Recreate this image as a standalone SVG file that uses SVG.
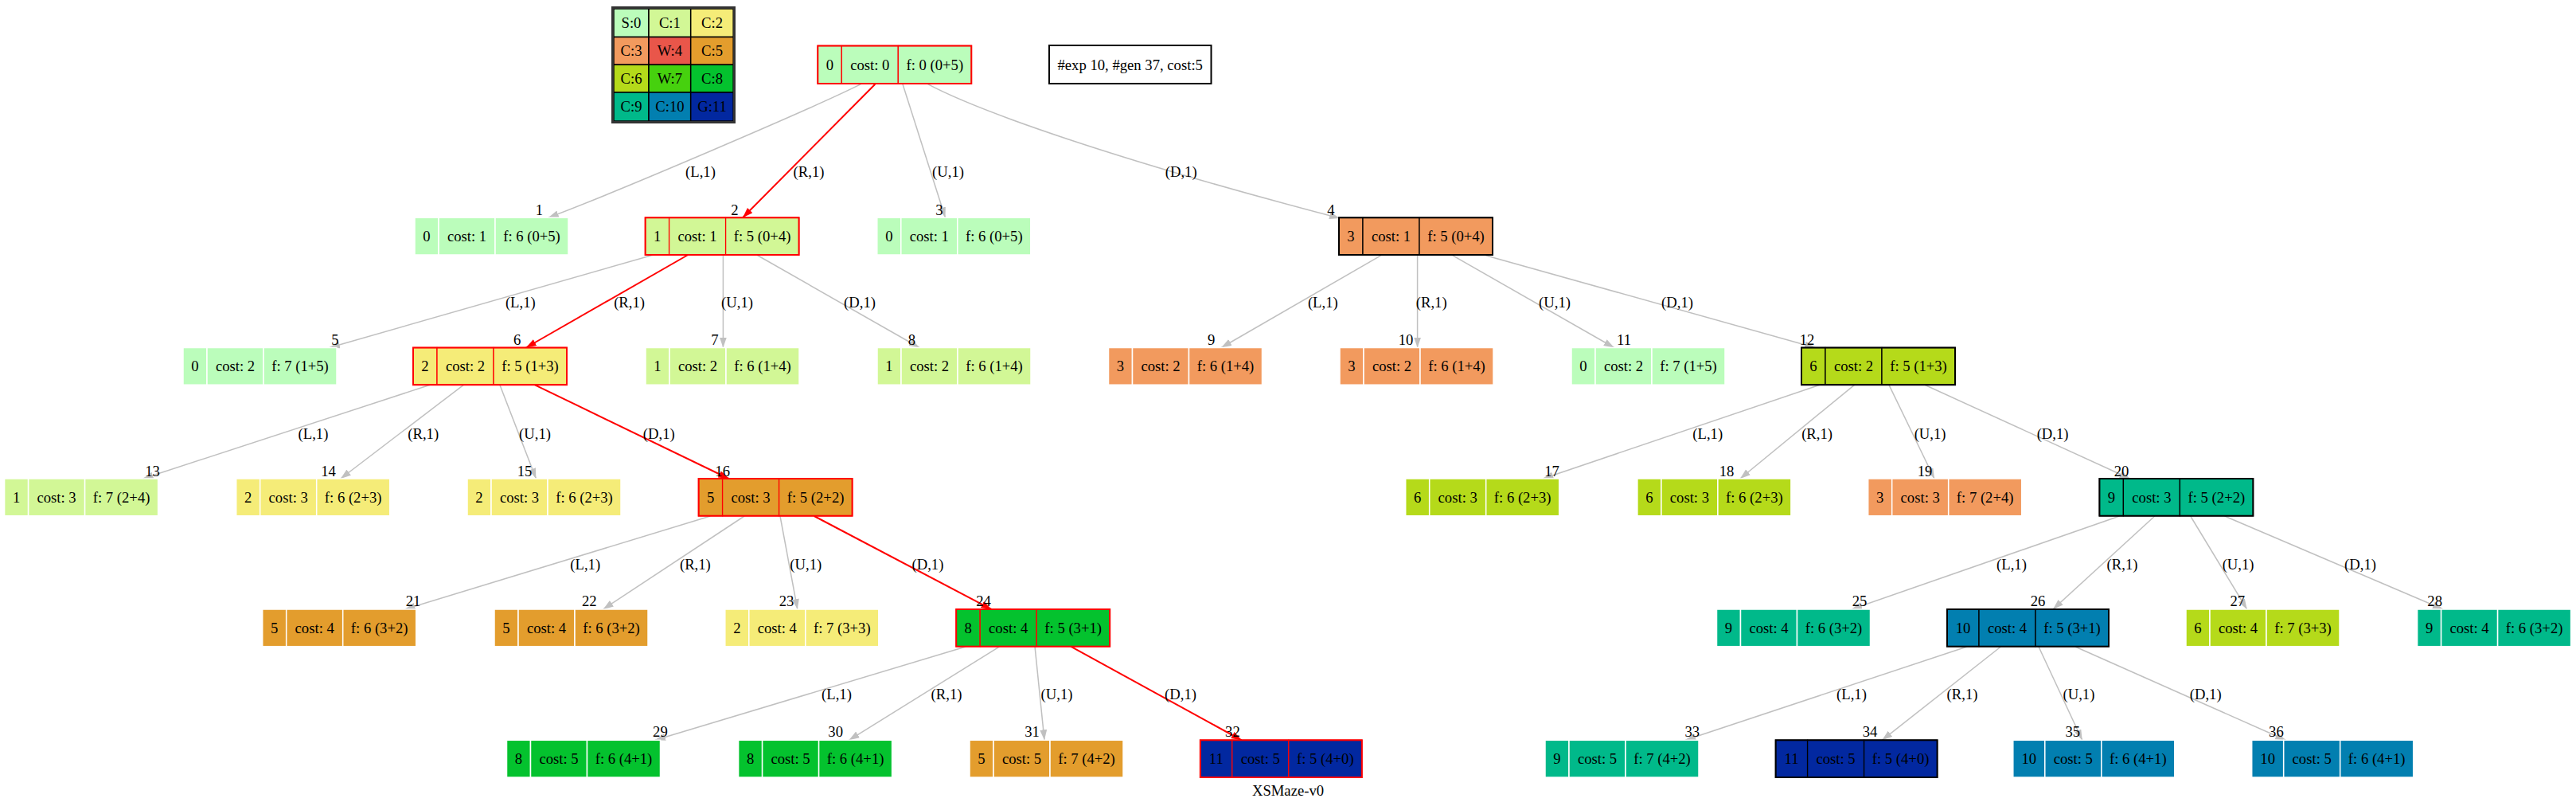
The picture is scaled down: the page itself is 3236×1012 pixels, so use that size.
<svg xmlns="http://www.w3.org/2000/svg" width="3236" height="1012" viewBox="0 0 3236 1012">
<style>
.t{font-family:"Liberation Serif","Times New Roman",serif;font-size:18.67px;fill:#000;text-anchor:middle}
.e{fill:none;stroke:#c0c0c0;stroke-width:1.5}
.r{fill:none;stroke:#ff0000;stroke-width:2}
g.w rect{stroke:#ffffff;stroke-width:1.5}
g.pr rect{stroke:#ff0000;stroke-width:1.3}
g.pk rect{stroke:#000000;stroke-width:1.3}
g.pr rect.o{fill:none;stroke:#ff0000;stroke-width:2}
g.pk rect.o{fill:none;stroke:#000000;stroke-width:2}
.k0{fill:#bbfdbb}.k1{fill:#d2f796}.k2{fill:#f5ec78}.k3{fill:#f29a5e}.k4{fill:#e9564a}.k5{fill:#e39d2d}
.k6{fill:#b5da1a}.k7{fill:#46d10e}.k8{fill:#04c22e}.k9{fill:#00b98a}.k10{fill:#027fb0}.k11{fill:#0228a0}
#legend rect{stroke:#000;stroke-width:1.5}
</style>
<defs>
<marker id="ag" markerUnits="userSpaceOnUse" markerWidth="14" markerHeight="10" refX="13" refY="4.5" orient="auto"><path d="M0,0 L13,4.5 L0,9 z" fill="#c0c0c0"/></marker>
<marker id="ar" markerUnits="userSpaceOnUse" markerWidth="14" markerHeight="10" refX="13" refY="4.5" orient="auto"><path d="M0,0 L13,4.5 L0,9 z" fill="#ff0000"/></marker>
</defs>
<rect x="0" y="0" width="3236" height="1012" fill="#ffffff"/>

<g id="legend">
<rect x="771" y="11" width="44" height="35.5" class="k0"/><rect x="815" y="11" width="52.7" height="35.5" class="k1"/><rect x="867.7" y="11" width="53.5" height="35.5" class="k2"/>
<rect x="771" y="46.5" width="44" height="34.8" class="k3"/><rect x="815" y="46.5" width="52.7" height="34.8" class="k4"/><rect x="867.7" y="46.5" width="53.5" height="34.8" class="k5"/>
<rect x="771" y="81.3" width="44" height="34.7" class="k6"/><rect x="815" y="81.3" width="52.7" height="34.7" class="k7"/><rect x="867.7" y="81.3" width="53.5" height="34.7" class="k8"/>
<rect x="771" y="116" width="44" height="36" class="k9"/><rect x="815" y="116" width="52.7" height="36" class="k10"/><rect x="867.7" y="116" width="53.5" height="36" class="k11"/>
<rect x="769.5" y="9.5" width="153" height="144" fill="none" style="stroke:#333;stroke-width:3"/>
<text class="t" x="793" y="35">S:0</text><text class="t" x="841.4" y="35">C:1</text><text class="t" x="894.5" y="35">C:2</text>
<text class="t" x="793" y="70">C:3</text><text class="t" x="841.4" y="70">W:4</text><text class="t" x="894.5" y="70">C:5</text>
<text class="t" x="793" y="104.8">C:6</text><text class="t" x="841.4" y="104.8">W:7</text><text class="t" x="894.5" y="104.8">C:8</text>
<text class="t" x="793" y="140.3">C:9</text><text class="t" x="841.4" y="140.3">C:10</text><text class="t" x="894.5" y="140.3">G:11</text>
</g>

<g id="info">
<rect x="1318" y="57" width="203.5" height="48" fill="#fff" stroke="#000" stroke-width="2"/>
<text class="t" x="1419.7" y="87.5">#exp 10, #gen 37, cost:5</text>
</g>

<g id="connectors">
<path class="e" marker-end="url(#ag)" d="M1081.4,105.7 C1021,136 770,243 688.8,273.3"/>
<path class="r" marker-end="url(#ar)" d="M1099.3,105.7 L933,273.3"/>
<path class="e" marker-end="url(#ag)" d="M1134,105.7 L1187.5,273.3"/>
<path class="e" marker-end="url(#ag)" d="M1165.6,105.7 C1230,140 1400,200 1683,274"/>
<path class="e" marker-end="url(#ag)" d="M820.8,320 L413.9,436.5"/>
<path class="r" marker-end="url(#ar)" d="M864.3,320 L660.8,436.5"/>
<path class="e" marker-end="url(#ag)" d="M908.4,320 L908.4,436.5"/>
<path class="e" marker-end="url(#ag)" d="M950.5,320 L1155,436.5"/>
<path class="e" marker-end="url(#ag)" d="M1735,320.7 L1534.2,436.5"/>
<path class="e" marker-end="url(#ag)" d="M1780.6,320.7 L1780.6,436.5"/>
<path class="e" marker-end="url(#ag)" d="M1824.6,320.7 L2027.7,436.5"/>
<path class="e" marker-end="url(#ag)" d="M1866.4,320.7 L2280,436.5"/>
<path class="e" marker-end="url(#ag)" d="M540.2,483.3 L179.6,601"/>
<path class="e" marker-end="url(#ag)" d="M582.3,483.3 L427.9,601"/>
<path class="e" marker-end="url(#ag)" d="M627.9,483.3 L673.4,601"/>
<path class="r" marker-end="url(#ar)" d="M672,483.3 L915.5,601"/>
<path class="e" marker-end="url(#ag)" d="M2286,483.3 L1938.3,601"/>
<path class="e" marker-end="url(#ag)" d="M2329.5,483.3 L2186,601"/>
<path class="e" marker-end="url(#ag)" d="M2373,483.3 L2430,601"/>
<path class="e" marker-end="url(#ag)" d="M2418,483.3 L2675.7,601"/>
<path class="e" marker-end="url(#ag)" d="M892.3,648 L508.6,765"/>
<path class="e" marker-end="url(#ag)" d="M935.1,648 L757.6,765"/>
<path class="e" marker-end="url(#ag)" d="M980,648 L1001.8,765"/>
<path class="r" marker-end="url(#ar)" d="M1022.8,648 L1245.4,765"/>
<path class="e" marker-end="url(#ag)" d="M2662.5,648 L2326,765"/>
<path class="e" marker-end="url(#ag)" d="M2706.8,648 L2579,765"/>
<path class="e" marker-end="url(#ag)" d="M2751.7,648 L2822.7,765"/>
<path class="e" marker-end="url(#ag)" d="M2794.6,648 L3069,765"/>
<path class="e" marker-end="url(#ag)" d="M1213.8,811.7 L823,929.3"/>
<path class="e" marker-end="url(#ag)" d="M1256,811.7 L1066.5,929.3"/>
<path class="e" marker-end="url(#ag)" d="M1300,811.7 L1312,929.3"/>
<path class="r" marker-end="url(#ar)" d="M1345,811.7 L1559.7,929.3"/>
<path class="e" marker-end="url(#ag)" d="M2470.8,812 L2117.3,929.3"/>
<path class="e" marker-end="url(#ag)" d="M2513.4,812 L2364.3,929.3"/>
<path class="e" marker-end="url(#ag)" d="M2561,812 L2615.7,929.3"/>
<path class="e" marker-end="url(#ag)" d="M2607,812 L2871.3,929.3"/>
<text class="t" x="880" y="222.3">(L,1)</text><text class="t" x="1016" y="222.3">(R,1)</text><text class="t" x="1191" y="222.3">(U,1)</text><text class="t" x="1483.7" y="222.3">(D,1)</text>
<text class="t" x="653.8" y="386.3">(L,1)</text><text class="t" x="790.6" y="386.3">(R,1)</text><text class="t" x="926" y="386.3">(U,1)</text><text class="t" x="1080" y="386.3">(D,1)</text>
<text class="t" x="1661.8" y="386.3">(L,1)</text><text class="t" x="1798.2" y="386.3">(R,1)</text><text class="t" x="1953" y="386.3">(U,1)</text><text class="t" x="2107" y="386.3">(D,1)</text>
<text class="t" x="393.5" y="550.6">(L,1)</text><text class="t" x="531.7" y="550.6">(R,1)</text><text class="t" x="672" y="550.6">(U,1)</text><text class="t" x="827.8" y="550.6">(D,1)</text>
<text class="t" x="2145.2" y="550.6">(L,1)</text><text class="t" x="2282.6" y="550.6">(R,1)</text><text class="t" x="2424.6" y="550.6">(U,1)</text><text class="t" x="2578.6" y="550.6">(D,1)</text>
<text class="t" x="735.2" y="714.6">(L,1)</text><text class="t" x="873.4" y="714.6">(R,1)</text><text class="t" x="1012.3" y="714.6">(U,1)</text><text class="t" x="1165.4" y="714.6">(D,1)</text>
<text class="t" x="2527" y="714.6">(L,1)</text><text class="t" x="2666" y="714.6">(R,1)</text><text class="t" x="2811.6" y="714.6">(U,1)</text><text class="t" x="2965" y="714.6">(D,1)</text>
<text class="t" x="1051" y="878">(L,1)</text><text class="t" x="1189" y="878">(R,1)</text><text class="t" x="1327.5" y="878">(U,1)</text><text class="t" x="1483" y="878">(D,1)</text>
<text class="t" x="2326" y="878">(L,1)</text><text class="t" x="2465" y="878">(R,1)</text><text class="t" x="2611.4" y="878">(U,1)</text><text class="t" x="2770.7" y="878">(D,1)</text>
<text class="t" x="677.3" y="269.6">1</text><text class="t" x="922.8" y="269.6">2</text><text class="t" x="1179.8" y="269.6">3</text><text class="t" x="1672" y="269.6">4</text>
<text class="t" x="420.9" y="433">5</text><text class="t" x="649.6" y="433">6</text><text class="t" x="898" y="433">7</text><text class="t" x="1145.5" y="433">8</text>
<text class="t" x="1521.7" y="433">9</text><text class="t" x="1766" y="433">10</text><text class="t" x="2040" y="433">11</text><text class="t" x="2270" y="433">12</text>
<text class="t" x="191.5" y="598">13</text><text class="t" x="412.5" y="598">14</text><text class="t" x="659" y="598">15</text><text class="t" x="907.7" y="598">16</text>
<text class="t" x="1949.5" y="598">17</text><text class="t" x="2169" y="598">18</text><text class="t" x="2418" y="598">19</text><text class="t" x="2665" y="598">20</text>
<text class="t" x="519.1" y="761.3">21</text><text class="t" x="740.3" y="761.3">22</text><text class="t" x="988" y="761.3">23</text><text class="t" x="1235.6" y="761.3">24</text>
<text class="t" x="2336" y="761.3">25</text><text class="t" x="2560" y="761.3">26</text><text class="t" x="2810.8" y="761.3">27</text><text class="t" x="3058.7" y="761.3">28</text>
<text class="t" x="829.4" y="925.3">29</text><text class="t" x="1049.7" y="925.3">30</text><text class="t" x="1296.6" y="925.3">31</text><text class="t" x="1548.4" y="925.3">32</text>
<text class="t" x="2125.8" y="925.3">33</text><text class="t" x="2349" y="925.3">34</text><text class="t" x="2603.8" y="925.3">35</text><text class="t" x="2859.4" y="925.3">36</text>
</g>

<g id="node0" class="pr"><rect x="1027.3" y="57.5" width="30" height="47.5" class="k0"/><rect x="1057.3" y="57.5" width="71" height="47.5" class="k0"/><rect x="1128.3" y="57.5" width="92" height="47.5" class="k0"/><rect class="o" x="1027.3" y="57.5" width="193" height="47.5"/><text class="t" x="1042.3" y="87.5">0</text><text class="t" x="1092.8" y="87.5">cost: 0</text><text class="t" x="1174.3" y="87.5">f: 0 (0+5)</text></g>

<g id="node1" class="w"><rect x="521" y="273.3" width="30" height="46.7" class="k0"/><rect x="551" y="273.3" width="71" height="46.7" class="k0"/><rect x="622" y="273.3" width="92" height="46.7" class="k0"/><text class="t" x="536" y="303">0</text><text class="t" x="586.5" y="303">cost: 1</text><text class="t" x="668" y="303">f: 6 (0+5)</text></g>
<g id="node2" class="pr"><rect x="810.6" y="273.3" width="30" height="46.7" class="k1"/><rect x="840.6" y="273.3" width="71" height="46.7" class="k1"/><rect x="911.6" y="273.3" width="92" height="46.7" class="k1"/><rect class="o" x="810.6" y="273.3" width="193" height="46.7"/><text class="t" x="825.6" y="303">1</text><text class="t" x="876.1" y="303">cost: 1</text><text class="t" x="957.6" y="303">f: 5 (0+4)</text></g>
<g id="node3" class="w"><rect x="1101.8" y="273.3" width="30" height="46.7" class="k0"/><rect x="1131.8" y="273.3" width="71" height="46.7" class="k0"/><rect x="1202.8" y="273.3" width="92" height="46.7" class="k0"/><text class="t" x="1116.8" y="303">0</text><text class="t" x="1167.3" y="303">cost: 1</text><text class="t" x="1248.8" y="303">f: 6 (0+5)</text></g>
<g id="node4" class="pk"><rect x="1682" y="273.3" width="30" height="46.7" class="k3"/><rect x="1712" y="273.3" width="71" height="46.7" class="k3"/><rect x="1783" y="273.3" width="92" height="46.7" class="k3"/><rect class="o" x="1682" y="273.3" width="193" height="46.7"/><text class="t" x="1697" y="303">3</text><text class="t" x="1747.5" y="303">cost: 1</text><text class="t" x="1829" y="303">f: 5 (0+4)</text></g>

<g id="node5" class="w"><rect x="230" y="436.5" width="30" height="46.7" class="k0"/><rect x="260" y="436.5" width="71" height="46.7" class="k0"/><rect x="331" y="436.5" width="92" height="46.7" class="k0"/><text class="t" x="245" y="466.2">0</text><text class="t" x="295.5" y="466.2">cost: 2</text><text class="t" x="377" y="466.2">f: 7 (1+5)</text></g>
<g id="node6" class="pr"><rect x="519" y="436.5" width="30" height="46.7" class="k2"/><rect x="549" y="436.5" width="71" height="46.7" class="k2"/><rect x="620" y="436.5" width="92" height="46.7" class="k2"/><rect class="o" x="519" y="436.5" width="193" height="46.7"/><text class="t" x="534" y="466.2">2</text><text class="t" x="584.5" y="466.2">cost: 2</text><text class="t" x="666" y="466.2">f: 5 (1+3)</text></g>
<g id="node7" class="w"><rect x="811" y="436.5" width="30" height="46.7" class="k1"/><rect x="841" y="436.5" width="71" height="46.7" class="k1"/><rect x="912" y="436.5" width="92" height="46.7" class="k1"/><text class="t" x="826" y="466.2">1</text><text class="t" x="876.5" y="466.2">cost: 2</text><text class="t" x="958" y="466.2">f: 6 (1+4)</text></g>
<g id="node8" class="w"><rect x="1102" y="436.5" width="30" height="46.7" class="k1"/><rect x="1132" y="436.5" width="71" height="46.7" class="k1"/><rect x="1203" y="436.5" width="92" height="46.7" class="k1"/><text class="t" x="1117" y="466.2">1</text><text class="t" x="1167.5" y="466.2">cost: 2</text><text class="t" x="1249" y="466.2">f: 6 (1+4)</text></g>
<g id="node9" class="w"><rect x="1392.5" y="436.5" width="30" height="46.7" class="k3"/><rect x="1422.5" y="436.5" width="71" height="46.7" class="k3"/><rect x="1493.5" y="436.5" width="92" height="46.7" class="k3"/><text class="t" x="1407.5" y="466.2">3</text><text class="t" x="1458" y="466.2">cost: 2</text><text class="t" x="1539.5" y="466.2">f: 6 (1+4)</text></g>
<g id="node10" class="w"><rect x="1683" y="436.5" width="30" height="46.7" class="k3"/><rect x="1713" y="436.5" width="71" height="46.7" class="k3"/><rect x="1784" y="436.5" width="92" height="46.7" class="k3"/><text class="t" x="1698" y="466.2">3</text><text class="t" x="1748.5" y="466.2">cost: 2</text><text class="t" x="1830" y="466.2">f: 6 (1+4)</text></g>
<g id="node11" class="w"><rect x="1974" y="436.5" width="30" height="46.7" class="k0"/><rect x="2004" y="436.5" width="71" height="46.7" class="k0"/><rect x="2075" y="436.5" width="92" height="46.7" class="k0"/><text class="t" x="1989" y="466.2">0</text><text class="t" x="2039.5" y="466.2">cost: 2</text><text class="t" x="2121" y="466.2">f: 7 (1+5)</text></g>
<g id="node12" class="pk"><rect x="2263" y="436.5" width="30" height="46.7" class="k6"/><rect x="2293" y="436.5" width="71" height="46.7" class="k6"/><rect x="2364" y="436.5" width="92" height="46.7" class="k6"/><rect class="o" x="2263" y="436.5" width="193" height="46.7"/><text class="t" x="2278" y="466.2">6</text><text class="t" x="2328.5" y="466.2">cost: 2</text><text class="t" x="2410" y="466.2">f: 5 (1+3)</text></g>

<g id="node13" class="w"><rect x="5.6" y="601" width="30" height="46.7" class="k1"/><rect x="35.6" y="601" width="71" height="46.7" class="k1"/><rect x="106.6" y="601" width="92" height="46.7" class="k1"/><text class="t" x="20.6" y="630.7">1</text><text class="t" x="71.1" y="630.7">cost: 3</text><text class="t" x="152.6" y="630.7">f: 7 (2+4)</text></g>
<g id="node14" class="w"><rect x="296.7" y="601" width="30" height="46.7" class="k2"/><rect x="326.7" y="601" width="71" height="46.7" class="k2"/><rect x="397.7" y="601" width="92" height="46.7" class="k2"/><text class="t" x="311.7" y="630.7">2</text><text class="t" x="362.2" y="630.7">cost: 3</text><text class="t" x="443.7" y="630.7">f: 6 (2+3)</text></g>
<g id="node15" class="w"><rect x="587" y="601" width="30" height="46.7" class="k2"/><rect x="617" y="601" width="71" height="46.7" class="k2"/><rect x="688" y="601" width="92" height="46.7" class="k2"/><text class="t" x="602" y="630.7">2</text><text class="t" x="652.5" y="630.7">cost: 3</text><text class="t" x="734" y="630.7">f: 6 (2+3)</text></g>
<g id="node16" class="pr"><rect x="877.6" y="601" width="30" height="46.7" class="k5"/><rect x="907.6" y="601" width="71" height="46.7" class="k5"/><rect x="978.6" y="601" width="92" height="46.7" class="k5"/><rect class="o" x="877.6" y="601" width="193" height="46.7"/><text class="t" x="892.6" y="630.7">5</text><text class="t" x="943.1" y="630.7">cost: 3</text><text class="t" x="1024.6" y="630.7">f: 5 (2+2)</text></g>
<g id="node17" class="w"><rect x="1765.7" y="601" width="30" height="46.7" class="k6"/><rect x="1795.7" y="601" width="71" height="46.7" class="k6"/><rect x="1866.7" y="601" width="92" height="46.7" class="k6"/><text class="t" x="1780.7" y="630.7">6</text><text class="t" x="1831.2" y="630.7">cost: 3</text><text class="t" x="1912.7" y="630.7">f: 6 (2+3)</text></g>
<g id="node18" class="w"><rect x="2056.9" y="601" width="30" height="46.7" class="k6"/><rect x="2086.9" y="601" width="71" height="46.7" class="k6"/><rect x="2157.9" y="601" width="92" height="46.7" class="k6"/><text class="t" x="2071.9" y="630.7">6</text><text class="t" x="2122.4" y="630.7">cost: 3</text><text class="t" x="2203.9" y="630.7">f: 6 (2+3)</text></g>
<g id="node19" class="w"><rect x="2346.7" y="601" width="30" height="46.7" class="k3"/><rect x="2376.7" y="601" width="71" height="46.7" class="k3"/><rect x="2447.7" y="601" width="92" height="46.7" class="k3"/><text class="t" x="2361.7" y="630.7">3</text><text class="t" x="2412.2" y="630.7">cost: 3</text><text class="t" x="2493.7" y="630.7">f: 7 (2+4)</text></g>
<g id="node20" class="pk"><rect x="2637.4" y="601" width="30" height="46.7" class="k9"/><rect x="2667.4" y="601" width="71" height="46.7" class="k9"/><rect x="2738.4" y="601" width="92" height="46.7" class="k9"/><rect class="o" x="2637.4" y="601" width="193" height="46.7"/><text class="t" x="2652.4" y="630.7">9</text><text class="t" x="2702.9" y="630.7">cost: 3</text><text class="t" x="2784.4" y="630.7">f: 5 (2+2)</text></g>

<g id="node21" class="w"><rect x="329.7" y="765" width="30" height="46.7" class="k5"/><rect x="359.7" y="765" width="71" height="46.7" class="k5"/><rect x="430.7" y="765" width="92" height="46.7" class="k5"/><text class="t" x="344.7" y="794.7">5</text><text class="t" x="395.2" y="794.7">cost: 4</text><text class="t" x="476.7" y="794.7">f: 6 (3+2)</text></g>
<g id="node22" class="w"><rect x="621" y="765" width="30" height="46.7" class="k5"/><rect x="651" y="765" width="71" height="46.7" class="k5"/><rect x="722" y="765" width="92" height="46.7" class="k5"/><text class="t" x="636" y="794.7">5</text><text class="t" x="686.5" y="794.7">cost: 4</text><text class="t" x="768" y="794.7">f: 6 (3+2)</text></g>
<g id="node23" class="w"><rect x="910.8" y="765" width="30" height="46.7" class="k2"/><rect x="940.8" y="765" width="71" height="46.7" class="k2"/><rect x="1011.8" y="765" width="92" height="46.7" class="k2"/><text class="t" x="925.8" y="794.7">2</text><text class="t" x="976.3" y="794.7">cost: 4</text><text class="t" x="1057.8" y="794.7">f: 7 (3+3)</text></g>
<g id="node24" class="pr"><rect x="1201.2" y="765" width="30" height="46.7" class="k8"/><rect x="1231.2" y="765" width="71" height="46.7" class="k8"/><rect x="1302.2" y="765" width="92" height="46.7" class="k8"/><rect class="o" x="1201.2" y="765" width="193" height="46.7"/><text class="t" x="1216.2" y="794.7">8</text><text class="t" x="1266.7" y="794.7">cost: 4</text><text class="t" x="1348.2" y="794.7">f: 5 (3+1)</text></g>
<g id="node25" class="w"><rect x="2156.5" y="765" width="30" height="46.7" class="k9"/><rect x="2186.5" y="765" width="71" height="46.7" class="k9"/><rect x="2257.5" y="765" width="92" height="46.7" class="k9"/><text class="t" x="2171.5" y="794.7">9</text><text class="t" x="2222" y="794.7">cost: 4</text><text class="t" x="2303.5" y="794.7">f: 6 (3+2)</text></g>
<g id="node26" class="pk"><rect x="2446" y="765" width="40" height="46.7" class="k10"/><rect x="2486" y="765" width="71" height="46.7" class="k10"/><rect x="2557" y="765" width="92" height="46.7" class="k10"/><rect class="o" x="2446" y="765" width="203" height="46.7"/><text class="t" x="2466" y="794.7">10</text><text class="t" x="2521.5" y="794.7">cost: 4</text><text class="t" x="2603" y="794.7">f: 5 (3+1)</text></g>
<g id="node27" class="w"><rect x="2746" y="765" width="30" height="46.7" class="k6"/><rect x="2776" y="765" width="71" height="46.7" class="k6"/><rect x="2847" y="765" width="92" height="46.7" class="k6"/><text class="t" x="2761" y="794.7">6</text><text class="t" x="2811.5" y="794.7">cost: 4</text><text class="t" x="2893" y="794.7">f: 7 (3+3)</text></g>
<g id="node28" class="w"><rect x="3036.6" y="765" width="30" height="46.7" class="k9"/><rect x="3066.6" y="765" width="71" height="46.7" class="k9"/><rect x="3137.6" y="765" width="92" height="46.7" class="k9"/><text class="t" x="3051.6" y="794.7">9</text><text class="t" x="3102.1" y="794.7">cost: 4</text><text class="t" x="3183.6" y="794.7">f: 6 (3+2)</text></g>

<g id="node29" class="w"><rect x="636.5" y="929.3" width="30" height="46.7" class="k8"/><rect x="666.5" y="929.3" width="71" height="46.7" class="k8"/><rect x="737.5" y="929.3" width="92" height="46.7" class="k8"/><text class="t" x="651.5" y="959">8</text><text class="t" x="702" y="959">cost: 5</text><text class="t" x="783.5" y="959">f: 6 (4+1)</text></g>
<g id="node30" class="w"><rect x="927.6" y="929.3" width="30" height="46.7" class="k8"/><rect x="957.6" y="929.3" width="71" height="46.7" class="k8"/><rect x="1028.6" y="929.3" width="92" height="46.7" class="k8"/><text class="t" x="942.6" y="959">8</text><text class="t" x="993.1" y="959">cost: 5</text><text class="t" x="1074.6" y="959">f: 6 (4+1)</text></g>
<g id="node31" class="w"><rect x="1218" y="929.3" width="30" height="46.7" class="k5"/><rect x="1248" y="929.3" width="71" height="46.7" class="k5"/><rect x="1319" y="929.3" width="92" height="46.7" class="k5"/><text class="t" x="1233" y="959">5</text><text class="t" x="1283.5" y="959">cost: 5</text><text class="t" x="1365" y="959">f: 7 (4+2)</text></g>
<g id="node32" class="pr"><rect x="1507.8" y="929.3" width="40" height="46.7" class="k11"/><rect x="1547.8" y="929.3" width="71" height="46.7" class="k11"/><rect x="1618.8" y="929.3" width="92" height="46.7" class="k11"/><rect class="o" x="1507.8" y="929.3" width="203" height="46.7"/><text class="t" x="1527.8" y="959">11</text><text class="t" x="1583.3" y="959">cost: 5</text><text class="t" x="1664.8" y="959">f: 5 (4+0)</text></g>
<g id="node33" class="w"><rect x="1941" y="929.3" width="30" height="46.7" class="k9"/><rect x="1971" y="929.3" width="71" height="46.7" class="k9"/><rect x="2042" y="929.3" width="92" height="46.7" class="k9"/><text class="t" x="1956" y="959">9</text><text class="t" x="2006.5" y="959">cost: 5</text><text class="t" x="2088" y="959">f: 7 (4+2)</text></g>
<g id="node34" class="pk"><rect x="2230.6" y="929.3" width="40" height="46.7" class="k11"/><rect x="2270.6" y="929.3" width="71" height="46.7" class="k11"/><rect x="2341.6" y="929.3" width="92" height="46.7" class="k11"/><rect class="o" x="2230.6" y="929.3" width="203" height="46.7"/><text class="t" x="2250.6" y="959">11</text><text class="t" x="2306.1" y="959">cost: 5</text><text class="t" x="2387.6" y="959">f: 5 (4+0)</text></g>
<g id="node35" class="w"><rect x="2528.8" y="929.3" width="40" height="46.7" class="k10"/><rect x="2568.8" y="929.3" width="71" height="46.7" class="k10"/><rect x="2639.8" y="929.3" width="92" height="46.7" class="k10"/><text class="t" x="2548.8" y="959">10</text><text class="t" x="2604.3" y="959">cost: 5</text><text class="t" x="2685.8" y="959">f: 6 (4+1)</text></g>
<g id="node36" class="w"><rect x="2828.7" y="929.3" width="40" height="46.7" class="k10"/><rect x="2868.7" y="929.3" width="71" height="46.7" class="k10"/><rect x="2939.7" y="929.3" width="92" height="46.7" class="k10"/><text class="t" x="2848.7" y="959">10</text><text class="t" x="2904.2" y="959">cost: 5</text><text class="t" x="2985.7" y="959">f: 6 (4+1)</text></g>

<g id="title"><text class="t" x="1618" y="999">XSMaze-v0</text></g>
</svg>
